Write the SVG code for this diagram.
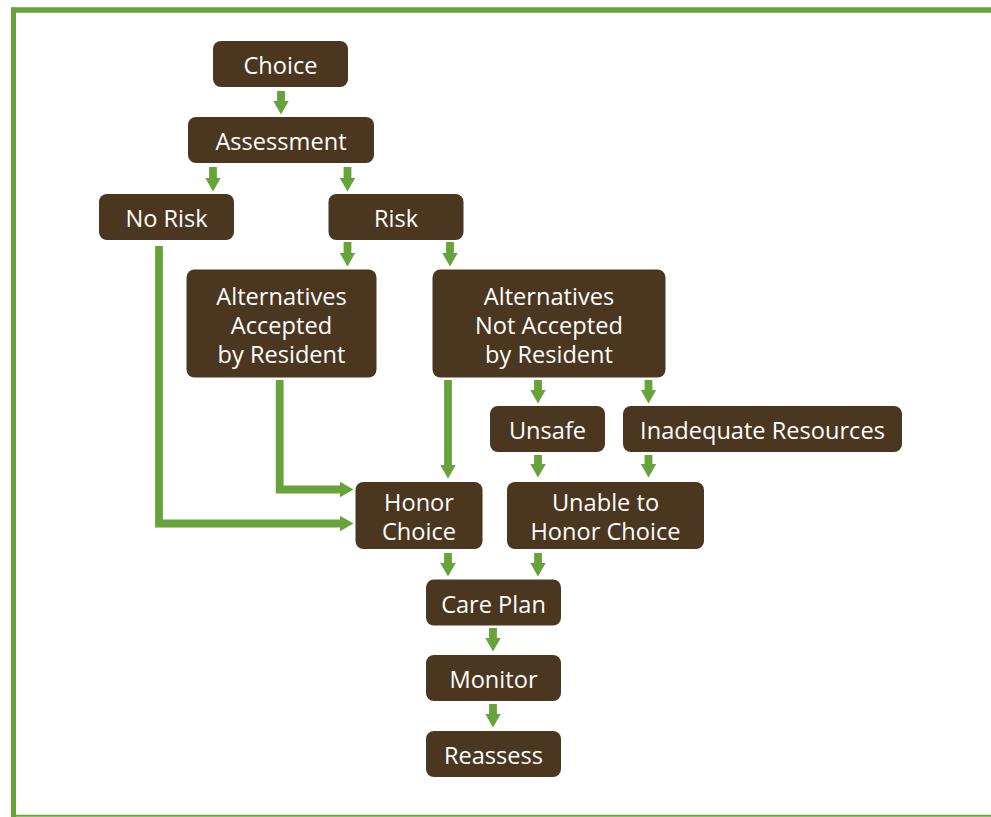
<svg xmlns="http://www.w3.org/2000/svg" width="991" height="817" viewBox="0 0 991 817">
  <style>
    .box { fill: #4b3620; }
    .lbl { fill: #ffffff; font-family: "Open Sans", "Liberation Sans", sans-serif; font-size: 23.6px; text-anchor: middle; }
    .con { fill: none; stroke: #67a33a; stroke-width: 7.8; stroke-linejoin: miter; stroke-linecap: butt; }
    .frame { stroke: #67a33a; fill: none; }
  </style>
  <defs>
    <marker id="ah" markerUnits="userSpaceOnUse" viewBox="0 0 14 16" markerWidth="14" markerHeight="16" refX="0.5" refY="8" orient="auto">
      <path d="M0,0 L14,8 L0,16 Z" fill="#67a33a"/>
    </marker>
  </defs>
  <rect width="991" height="817" fill="#ffffff"/>
  <g id="frame">
    <line class="frame" x1="11" y1="10" x2="991" y2="10" stroke-width="5.3"/>
    <line class="frame" x1="13.5" y1="7.5" x2="13.5" y2="817" stroke-width="5"/>
    <line class="frame" x1="11" y1="815.8" x2="991" y2="815.8" stroke-width="2"/>
  </g>
  <g id="connectors">
    <path class="con" marker-end="url(#ah)" d="M281,91 V101"/>
    <path class="con" marker-end="url(#ah)" d="M213,167 V178"/>
    <path class="con" marker-end="url(#ah)" d="M347.5,167 V178"/>
    <path class="con" marker-end="url(#ah)" d="M347.5,242 V253"/>
    <path class="con" marker-end="url(#ah)" d="M450,242 V253"/>
    <path class="con" marker-end="url(#ah)" d="M538,380 V390"/>
    <path class="con" marker-end="url(#ah)" d="M648.5,380 V390"/>
    <path class="con" marker-end="url(#ah)" d="M538,455 V464"/>
    <path class="con" marker-end="url(#ah)" d="M648.5,455 V464"/>
    <path class="con" marker-end="url(#ah)" d="M448,553 V563"/>
    <path class="con" marker-end="url(#ah)" d="M538,553 V563"/>
    <path class="con" marker-end="url(#ah)" d="M493,628 V638"/>
    <path class="con" marker-end="url(#ah)" d="M493,704 V714"/>
    <path class="con" marker-end="url(#ah)" d="M159,246 V523.5 H340"/>
    <path class="con" marker-end="url(#ah)" d="M279.7,380 V489.5 H340"/>
    <path class="con" marker-end="url(#ah)" d="M448,380 V465"/>
  </g>
  <g id="choice">
    <rect class="box" x="213" y="41" width="135" height="46" rx="8"/>
    <text class="lbl" x="280.5" y="74">Choice</text>
  </g>
  <g id="assessment">
    <rect class="box" x="188" y="117" width="186" height="46" rx="8"/>
    <text class="lbl" x="281" y="150">Assessment</text>
  </g>
  <g id="no-risk">
    <rect class="box" x="99" y="194" width="135" height="46" rx="8"/>
    <text class="lbl" x="166.5" y="227">No Risk</text>
  </g>
  <g id="risk">
    <rect class="box" x="328.5" y="194" width="135" height="46" rx="8"/>
    <text class="lbl" x="396" y="227">Risk</text>
  </g>
  <g id="alt-accepted">
    <rect class="box" x="186.5" y="269.5" width="190" height="108" rx="8"/>
    <text class="lbl" x="281.5" y="304.5">Alternatives</text>
    <text class="lbl" x="281.5" y="333.5">Accepted</text>
    <text class="lbl" x="281.5" y="362.5">by Resident</text>
  </g>
  <g id="alt-not-accepted">
    <rect class="box" x="432.5" y="269.5" width="233" height="108" rx="8"/>
    <text class="lbl" x="549" y="304.5">Alternatives</text>
    <text class="lbl" x="549" y="333.5">Not Accepted</text>
    <text class="lbl" x="549" y="362.5">by Resident</text>
  </g>
  <g id="unsafe">
    <rect class="box" x="490" y="406" width="115" height="46" rx="8"/>
    <text class="lbl" x="547.5" y="438.5">Unsafe</text>
  </g>
  <g id="inadequate-resources">
    <rect class="box" x="623" y="406" width="279" height="46" rx="8"/>
    <text class="lbl" x="762.5" y="438.5">Inadequate Resources</text>
  </g>
  <g id="honor-choice">
    <rect class="box" x="355.5" y="482" width="127" height="67" rx="8"/>
    <text class="lbl" x="419" y="511">Honor</text>
    <text class="lbl" x="419" y="540">Choice</text>
  </g>
  <g id="unable-to-honor">
    <rect class="box" x="507" y="482" width="197" height="67" rx="8"/>
    <text class="lbl" x="605.5" y="511">Unable to</text>
    <text class="lbl" x="605.5" y="540">Honor Choice</text>
  </g>
  <g id="care-plan">
    <rect class="box" x="426" y="579.5" width="135" height="46" rx="8"/>
    <text class="lbl" x="493.5" y="612.5">Care Plan</text>
  </g>
  <g id="monitor">
    <rect class="box" x="426" y="655" width="135" height="46" rx="8"/>
    <text class="lbl" x="493.5" y="688">Monitor</text>
  </g>
  <g id="reassess">
    <rect class="box" x="426" y="731" width="135" height="46" rx="8"/>
    <text class="lbl" x="493.5" y="764">Reassess</text>
  </g>
</svg>
